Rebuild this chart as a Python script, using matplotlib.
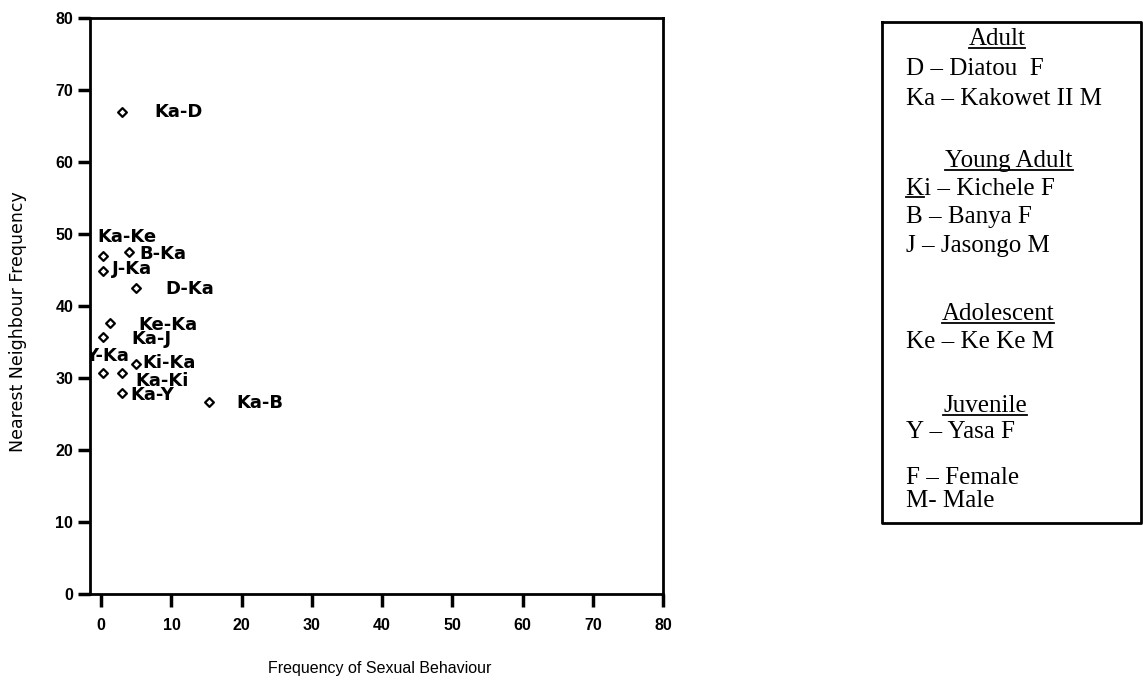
import matplotlib
matplotlib.use('Agg')
import matplotlib.pyplot as plt
from matplotlib import font_manager
from matplotlib.lines import Line2D

# pair labels and values
pairs = ['Ka-D', 'Ka-Ke', 'B-Ka', 'J-Ka', 'D-Ka', 'Ke-Ka', 'Ka-J',
         'Y-Ka', 'Ki-Ka', 'Ka-Ki', 'Ka-Y', 'Ka-B']
sexual_freq = [3, 0.3, 4, 0.3, 5, 1.2, 0.2, 0.2, 5, 3, 3, 15.4]
neighbour_freq = [67, 47, 47.5, 44.8, 42.5, 37.7, 35.7, 30.7, 31.9, 30.7, 27.9, 26.7]
x_ticks = [0, 10, 20, 30, 40, 50, 60, 70, 80]
y_ticks = [0, 10, 20, 30, 40, 50, 60, 70, 80]

# key box text
key_lines = ['Adult', 'D \u2013 Diatou  F', 'Ka \u2013 Kakowet II M',
             'Young Adult', 'Ki \u2013 Kichele F', 'B \u2013 Banya F', 'J \u2013 Jasongo M',
             'Adolescent', 'Ke \u2013 Ke Ke M',
             'Juvenile', 'Y \u2013 Yasa F',
             'F \u2013 Female', 'M- Male']
key_headers = ['Adult', 'Young Adult', 'Adolescent', 'Juvenile']

# label offsets from each point (pixels, x right / y up)
label_offsets = [(32, 0), (-6, 19), (10, -2), (9, 2), (29, -1), (29, -2), (29, -2),
                 (-18, 17), (6, 1), (13, -8), (8, -2), (27, -1)]

W, H = 1143, 686
installed = {f.name for f in font_manager.fontManager.ttflist}
narrow = 'Liberation Sans Narrow' if 'Liberation Sans Narrow' in installed else 'Liberation Sans'

fig = plt.figure(figsize=(W / 100, H / 100), dpi=100)
fig.patch.set_facecolor('white')

def fx(px):
    return px / W

def fy(py):
    return 1 - py / H

ax = fig.add_axes([fx(90), fy(594), fx(663) - fx(90), fy(18) - fy(594)])
ax.scatter(sexual_freq, neighbour_freq, marker='D', s=20, facecolors='white',
           edgecolors='black', linewidths=1.6, zorder=3, clip_on=False)

for name, x, y, off in zip(pairs, sexual_freq, neighbour_freq, label_offsets):
    ann = ax.annotate(name, (x, y), xytext=off, textcoords='offset pixels',
                      ha='left', va='center', fontsize=13, fontweight='bold',
                      family='DejaVu Sans', annotation_clip=False)
    # labels are cut off at the left frame, as in the original
    ann.set_clip_path(ax.patch)
    ann.set_clip_on(True)

ax.set_xlim(-1.6, 80)
ax.set_ylim(0, 80)
ax.set_xticks(x_ticks)
ax.set_yticks(y_ticks)
ax.tick_params(axis='both', direction='out', length=9, width=2.5, color='black')
ax.tick_params(axis='x', pad=8)
ax.tick_params(axis='y', pad=3)
for lab in ax.get_xticklabels() + ax.get_yticklabels():
    lab.set_family(narrow)
    lab.set_fontweight('bold')
    lab.set_fontsize(11.5)
for sp in ax.spines.values():
    sp.set_linewidth(2)
    sp.set_color('black')

fig.text(fx(380), fy(668), 'Frequency of Sexual Behaviour', ha='center', va='center',
         family=narrow, fontsize=11.5)
fig.text(fx(18), fy(322), 'Nearest Neighbour Frequency', ha='center', va='center',
         rotation=90, family='DejaVu Sans', fontsize=12.5)

# key box
box_x0, box_x1, box_y0, box_y1 = 882, 1141, 22, 523
fig.add_artist(Line2D([fx(box_x0), fx(box_x1), fx(box_x1), fx(box_x0), fx(box_x0)],
                      [fy(box_y0), fy(box_y0), fy(box_y1), fy(box_y1), fy(box_y0)],
                      color='black', lw=2, transform=fig.transFigure))

baselines = [45, 75, 105, 167, 195, 223, 252, 320, 348, 412, 438, 484, 507]
header_centers = {'Adult': 997, 'Young Adult': 1009, 'Adolescent': 998, 'Juvenile': 985}
underline_items = []
for line, yb in zip(key_lines, baselines):
    if line in key_headers:
        t = fig.text(fx(header_centers[line]), fy(yb), line, ha='center', va='baseline',
                     family='Liberation Serif', fontsize=18)
        underline_items.append((t, yb))
    else:
        fig.text(fx(906), fy(yb), line, ha='left', va='baseline',
                 family='Liberation Serif', fontsize=18)
        if line.startswith('Ki'):
            k = fig.text(fx(906), fy(yb), 'K', ha='left', va='baseline',
                         family='Liberation Serif', fontsize=18, alpha=0)
            underline_items.append((k, yb))

fig.canvas.draw()
renderer = fig.canvas.get_renderer()
for t, yb in underline_items:
    bb = t.get_window_extent(renderer)
    fig.add_artist(Line2D([bb.x0 / W, bb.x1 / W], [fy(yb + 2.5)] * 2, color='black',
                          lw=1.3, transform=fig.transFigure))

fig.savefig('out.png', dpi=100, facecolor='white')
